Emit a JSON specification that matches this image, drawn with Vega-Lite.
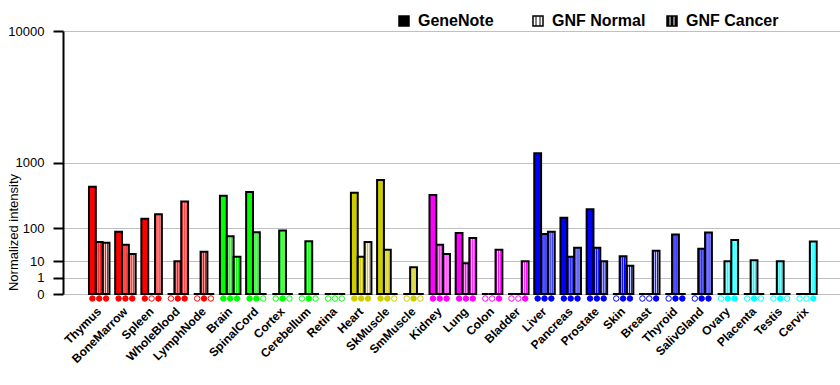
{
  "$schema": "https://vega.github.io/schema/vega-lite/v6.json",
  "width": 777,
  "height": 263,
  "autosize": "none",
  "padding": {"left": 63, "top": 31, "right": 0, "bottom": 91},
  "background": "white",
  "config": {"view": {"stroke": null}, "font": "Liberation Sans"},
  "data": {"values": [
    {"tissue": "Thymus", "system": "Hematopoietic", "series": "GeneNote", "value": 510, "present": 1},
    {"tissue": "Thymus", "system": "Hematopoietic", "series": "GNF Normal", "value": 46, "present": 1},
    {"tissue": "Thymus", "system": "Hematopoietic", "series": "GNF Cancer", "value": 44, "present": 1},
    {"tissue": "BoneMarrow", "system": "Hematopoietic", "series": "GeneNote", "value": 83, "present": 1},
    {"tissue": "BoneMarrow", "system": "Hematopoietic", "series": "GNF Normal", "value": 38, "present": 1},
    {"tissue": "BoneMarrow", "system": "Hematopoietic", "series": "GNF Cancer", "value": 19, "present": 1},
    {"tissue": "Spleen", "system": "Hematopoietic", "series": "GeneNote", "value": 157, "present": 1},
    {"tissue": "Spleen", "system": "Hematopoietic", "series": "GNF Normal", "value": 0, "present": 0},
    {"tissue": "Spleen", "system": "Hematopoietic", "series": "GNF Cancer", "value": 190, "present": 1},
    {"tissue": "WholeBlood", "system": "Hematopoietic", "series": "GeneNote", "value": 0, "present": 0},
    {"tissue": "WholeBlood", "system": "Hematopoietic", "series": "GNF Normal", "value": 10, "present": 1},
    {"tissue": "WholeBlood", "system": "Hematopoietic", "series": "GNF Cancer", "value": 310, "present": 1},
    {"tissue": "LymphNode", "system": "Hematopoietic", "series": "GeneNote", "value": 0, "present": 0},
    {"tissue": "LymphNode", "system": "Hematopoietic", "series": "GNF Normal", "value": 23, "present": 1},
    {"tissue": "LymphNode", "system": "Hematopoietic", "series": "GNF Cancer", "value": 0, "present": 0},
    {"tissue": "Brain", "system": "Nervous", "series": "GeneNote", "value": 380, "present": 1},
    {"tissue": "Brain", "system": "Nervous", "series": "GNF Normal", "value": 65, "present": 1},
    {"tissue": "Brain", "system": "Nervous", "series": "GNF Cancer", "value": 15, "present": 1},
    {"tissue": "SpinalCord", "system": "Nervous", "series": "GeneNote", "value": 430, "present": 1},
    {"tissue": "SpinalCord", "system": "Nervous", "series": "GNF Normal", "value": 81, "present": 1},
    {"tissue": "SpinalCord", "system": "Nervous", "series": "GNF Cancer", "value": 0, "present": 0},
    {"tissue": "Cortex", "system": "Nervous", "series": "GeneNote", "value": 0, "present": 0},
    {"tissue": "Cortex", "system": "Nervous", "series": "GNF Normal", "value": 89, "present": 1},
    {"tissue": "Cortex", "system": "Nervous", "series": "GNF Cancer", "value": 0, "present": 0},
    {"tissue": "Cerebellum", "system": "Nervous", "series": "GeneNote", "value": 0, "present": 0},
    {"tissue": "Cerebellum", "system": "Nervous", "series": "GNF Normal", "value": 48, "present": 1},
    {"tissue": "Cerebellum", "system": "Nervous", "series": "GNF Cancer", "value": 0, "present": 0},
    {"tissue": "Retina", "system": "Nervous", "series": "GeneNote", "value": 0, "present": 0},
    {"tissue": "Retina", "system": "Nervous", "series": "GNF Normal", "value": 0, "present": 0},
    {"tissue": "Retina", "system": "Nervous", "series": "GNF Cancer", "value": 0, "present": 0},
    {"tissue": "Heart", "system": "Muscle", "series": "GeneNote", "value": 420, "present": 1},
    {"tissue": "Heart", "system": "Muscle", "series": "GNF Normal", "value": 15, "present": 1},
    {"tissue": "Heart", "system": "Muscle", "series": "GNF Cancer", "value": 46, "present": 1},
    {"tissue": "SkMuscle", "system": "Muscle", "series": "GeneNote", "value": 620, "present": 1},
    {"tissue": "SkMuscle", "system": "Muscle", "series": "GNF Normal", "value": 27, "present": 1},
    {"tissue": "SkMuscle", "system": "Muscle", "series": "GNF Cancer", "value": 0, "present": 0},
    {"tissue": "SmMuscle", "system": "Muscle", "series": "GeneNote", "value": 0, "present": 0},
    {"tissue": "SmMuscle", "system": "Muscle", "series": "GNF Normal", "value": 5, "present": 1},
    {"tissue": "SmMuscle", "system": "Muscle", "series": "GNF Cancer", "value": 0, "present": 0},
    {"tissue": "Kidney", "system": "Visceral", "series": "GeneNote", "value": 390, "present": 1},
    {"tissue": "Kidney", "system": "Visceral", "series": "GNF Normal", "value": 38, "present": 1},
    {"tissue": "Kidney", "system": "Visceral", "series": "GNF Cancer", "value": 19, "present": 1},
    {"tissue": "Lung", "system": "Visceral", "series": "GeneNote", "value": 78, "present": 1},
    {"tissue": "Lung", "system": "Visceral", "series": "GNF Normal", "value": 8, "present": 1},
    {"tissue": "Lung", "system": "Visceral", "series": "GNF Cancer", "value": 59, "present": 1},
    {"tissue": "Colon", "system": "Visceral", "series": "GeneNote", "value": 0, "present": 0},
    {"tissue": "Colon", "system": "Visceral", "series": "GNF Normal", "value": 0, "present": 0},
    {"tissue": "Colon", "system": "Visceral", "series": "GNF Cancer", "value": 27, "present": 1},
    {"tissue": "Bladder", "system": "Visceral", "series": "GeneNote", "value": 0, "present": 0},
    {"tissue": "Bladder", "system": "Visceral", "series": "GNF Normal", "value": 0, "present": 0},
    {"tissue": "Bladder", "system": "Visceral", "series": "GNF Cancer", "value": 10, "present": 1},
    {"tissue": "Liver", "system": "Glandular", "series": "GeneNote", "value": 1250, "present": 1},
    {"tissue": "Liver", "system": "Glandular", "series": "GNF Normal", "value": 74, "present": 1},
    {"tissue": "Liver", "system": "Glandular", "series": "GNF Cancer", "value": 83, "present": 1},
    {"tissue": "Pancreas", "system": "Glandular", "series": "GeneNote", "value": 164, "present": 1},
    {"tissue": "Pancreas", "system": "Glandular", "series": "GNF Normal", "value": 15, "present": 1},
    {"tissue": "Pancreas", "system": "Glandular", "series": "GNF Cancer", "value": 31, "present": 1},
    {"tissue": "Prostate", "system": "Glandular", "series": "GeneNote", "value": 233, "present": 1},
    {"tissue": "Prostate", "system": "Glandular", "series": "GNF Normal", "value": 31, "present": 1},
    {"tissue": "Prostate", "system": "Glandular", "series": "GNF Cancer", "value": 10, "present": 1},
    {"tissue": "Skin", "system": "Glandular", "series": "GeneNote", "value": 0, "present": 0},
    {"tissue": "Skin", "system": "Glandular", "series": "GNF Normal", "value": 16, "present": 1},
    {"tissue": "Skin", "system": "Glandular", "series": "GNF Cancer", "value": 6, "present": 1},
    {"tissue": "Breast", "system": "Glandular", "series": "GeneNote", "value": 0, "present": 0},
    {"tissue": "Breast", "system": "Glandular", "series": "GNF Normal", "value": 0, "present": 0},
    {"tissue": "Breast", "system": "Glandular", "series": "GNF Cancer", "value": 25, "present": 1},
    {"tissue": "Thyroid", "system": "Glandular", "series": "GeneNote", "value": 0, "present": 0},
    {"tissue": "Thyroid", "system": "Glandular", "series": "GNF Normal", "value": 72, "present": 1},
    {"tissue": "Thyroid", "system": "Glandular", "series": "GNF Cancer", "value": 0, "present": 1},
    {"tissue": "SalivGland", "system": "Glandular", "series": "GeneNote", "value": 0, "present": 0},
    {"tissue": "SalivGland", "system": "Glandular", "series": "GNF Normal", "value": 29, "present": 1},
    {"tissue": "SalivGland", "system": "Glandular", "series": "GNF Cancer", "value": 80, "present": 1},
    {"tissue": "Ovary", "system": "Reproductive", "series": "GeneNote", "value": 0, "present": 0},
    {"tissue": "Ovary", "system": "Reproductive", "series": "GNF Normal", "value": 10, "present": 1},
    {"tissue": "Ovary", "system": "Reproductive", "series": "GNF Cancer", "value": 52, "present": 1},
    {"tissue": "Placenta", "system": "Reproductive", "series": "GeneNote", "value": 0, "present": 0},
    {"tissue": "Placenta", "system": "Reproductive", "series": "GNF Normal", "value": 11, "present": 1},
    {"tissue": "Placenta", "system": "Reproductive", "series": "GNF Cancer", "value": 0, "present": 0},
    {"tissue": "Testis", "system": "Reproductive", "series": "GeneNote", "value": 0, "present": 0},
    {"tissue": "Testis", "system": "Reproductive", "series": "GNF Normal", "value": 10, "present": 1},
    {"tissue": "Testis", "system": "Reproductive", "series": "GNF Cancer", "value": 0, "present": 0},
    {"tissue": "Cervix", "system": "Reproductive", "series": "GeneNote", "value": 0, "present": 0},
    {"tissue": "Cervix", "system": "Reproductive", "series": "GNF Normal", "value": 0, "present": 0},
    {"tissue": "Cervix", "system": "Reproductive", "series": "GNF Cancer", "value": 47, "present": 1}
  ]},
  "encoding": {
    "x": {
      "field": "tissue",
      "type": "nominal",
      "scale": {
        "domain": ["Thymus", "BoneMarrow", "Spleen", "WholeBlood", "LymphNode", "Brain", "SpinalCord", "Cortex", "Cerebellum", "Retina", "Heart", "SkMuscle", "SmMuscle", "Kidney", "Lung", "Colon", "Bladder", "Liver", "Pancreas", "Prostate", "Skin", "Breast", "Thyroid", "SalivGland", "Ovary", "Placenta", "Testis", "Cervix"],
        "paddingInner": 0.217,
        "paddingOuter": 0.941,
        "align": 0.527
      },
      "axis": {
        "title": null,
        "domain": false,
        "ticks": false,
        "grid": false,
        "labelAngle": -45,
        "labelAlign": "right",
        "labelBaseline": "middle",
        "labelPadding": 15,
        "labelFont": "Liberation Sans",
        "labelFontSize": 12,
        "labelFontWeight": "bold",
        "labelColor": "black",
        "labelOverlap": false,
        "labelLimit": 200
      }
    },
    "xOffset": {
      "field": "series",
      "type": "nominal",
      "scale": {"domain": ["GeneNote", "GNF Normal", "GNF Cancer"], "paddingInner": 0, "paddingOuter": 0}
    }
  },
  "layer": [
    {
      "mark": {"type": "bar", "stroke": "black", "strokeWidth": 2},
      "encoding": {
        "y": {
          "field": "value",
          "type": "quantitative",
          "scale": {"type": "pow", "exponent": 0.30103, "domain": [0, 10000], "nice": false, "zero": true},
          "axis": {
            "values": [0, 1, 10, 100, 1000, 10000],
            "format": "d",
            "grid": true,
            "gridColor": "#c0c0c0",
            "gridWidth": 1,
            "domainColor": "black",
            "domainWidth": 2,
            "tickColor": "black",
            "tickWidth": 2,
            "tickSize": 10,
            "labelPadding": 9,
            "labelFont": "Liberation Sans",
            "labelFontSize": 13,
            "labelColor": "black",
            "labelOverlap": false,
            "title": "Normalized intensity",
            "titleFont": "Liberation Sans",
            "titleFontSize": 13,
            "titleFontWeight": "normal",
            "titleColor": "black",
            "titleAngle": -90,
            "titleX": -43,
            "titleY": 201,
            "titleAlign": "center",
            "titleBaseline": "bottom"
          }
        },
        "opacity": {
          "field": "series",
          "type": "nominal",
          "scale": {"domain": ["GeneNote", "GNF Normal", "GNF Cancer"], "range": [1, 1, 1]},
          "legend": {
            "title": null,
            "orient": "none",
            "legendX": 333,
            "legendY": -18,
            "direction": "horizontal",
            "columns": 3,
            "gridAlign": "all",
            "columnPadding": 18,
            "padding": 0,
            "symbolType": "square",
            "symbolSize": 100,
            "labelFont": "Liberation Sans",
            "labelFontSize": 16,
            "labelFontWeight": "bold",
            "labelColor": "black",
            "labelOffset": 6
          }
        },
        "fill": {
          "field": "system",
          "type": "nominal",
          "scale": {"domain": ["Hematopoietic", "Nervous", "Muscle", "Visceral", "Glandular", "Reproductive"], "range": ["#ff0000", "#00ff00", "#cccc00", "#ff00ff", "#0000ff", "#00ffff"]},
          "legend": null,
          "condition": [
            {"test": "datum.series === 'GNF Normal' && datum.system === 'Hematopoietic'", "value": {"expr": "datum.value === 'GeneNote' ? 'black' : datum.value === 'GNF Normal' ? {gradient: 'linear', x1: 0, y1: 0, x2: 1, y2: 0, stops: [{offset: 0, color: 'white'}, {offset: 0.2, color: 'white'}, {offset: 0.3, color: 'black'}, {offset: 0.4, color: 'white'}, {offset: 0.6, color: 'white'}, {offset: 0.7, color: 'black'}, {offset: 0.8, color: 'white'}, {offset: 1, color: 'white'}]} : datum.value === 'GNF Cancer' ? {gradient: 'linear', x1: 0, y1: 0, x2: 1, y2: 0, stops: [{offset: 0, color: 'black'}, {offset: 0.2, color: 'black'}, {offset: 0.3, color: 'white'}, {offset: 0.4, color: 'black'}, {offset: 0.6, color: 'black'}, {offset: 0.7, color: 'white'}, {offset: 0.8, color: 'black'}, {offset: 1, color: 'black'}]} : {gradient: 'linear', x1: 0, y1: 0, x2: 1, y2: 0, stops: [{offset: 0, color: '#ff0000'}, {offset: 0.15, color: '#ff0000'}, {offset: 0.29, color: '#ff9999'}, {offset: 0.43, color: '#ff0000'}, {offset: 0.57, color: '#ff9999'}, {offset: 0.71, color: '#ff0000'}, {offset: 0.85, color: '#ff9999'}, {offset: 1, color: '#ff0000'}]}"}},
            {"test": "datum.series === 'GNF Normal' && datum.system === 'Nervous'", "value": {"gradient": "linear", "x1": 0, "y1": 0, "x2": 1, "y2": 0, "stops": [{"offset": 0, "color": "#00ff00"}, {"offset": 0.15, "color": "#00ff00"}, {"offset": 0.29, "color": "#99ff99"}, {"offset": 0.43, "color": "#00ff00"}, {"offset": 0.57, "color": "#99ff99"}, {"offset": 0.71, "color": "#00ff00"}, {"offset": 0.85, "color": "#99ff99"}, {"offset": 1, "color": "#00ff00"}]}},
            {"test": "datum.series === 'GNF Normal' && datum.system === 'Muscle'", "value": {"gradient": "linear", "x1": 0, "y1": 0, "x2": 1, "y2": 0, "stops": [{"offset": 0, "color": "#cccc00"}, {"offset": 0.15, "color": "#cccc00"}, {"offset": 0.29, "color": "#ebeb99"}, {"offset": 0.43, "color": "#cccc00"}, {"offset": 0.57, "color": "#ebeb99"}, {"offset": 0.71, "color": "#cccc00"}, {"offset": 0.85, "color": "#ebeb99"}, {"offset": 1, "color": "#cccc00"}]}},
            {"test": "datum.series === 'GNF Normal' && datum.system === 'Visceral'", "value": {"gradient": "linear", "x1": 0, "y1": 0, "x2": 1, "y2": 0, "stops": [{"offset": 0, "color": "#ff00ff"}, {"offset": 0.15, "color": "#ff00ff"}, {"offset": 0.29, "color": "#ff99ff"}, {"offset": 0.43, "color": "#ff00ff"}, {"offset": 0.57, "color": "#ff99ff"}, {"offset": 0.71, "color": "#ff00ff"}, {"offset": 0.85, "color": "#ff99ff"}, {"offset": 1, "color": "#ff00ff"}]}},
            {"test": "datum.series === 'GNF Normal' && datum.system === 'Glandular'", "value": {"gradient": "linear", "x1": 0, "y1": 0, "x2": 1, "y2": 0, "stops": [{"offset": 0, "color": "#0000ff"}, {"offset": 0.15, "color": "#0000ff"}, {"offset": 0.29, "color": "#9999ff"}, {"offset": 0.43, "color": "#0000ff"}, {"offset": 0.57, "color": "#9999ff"}, {"offset": 0.71, "color": "#0000ff"}, {"offset": 0.85, "color": "#9999ff"}, {"offset": 1, "color": "#0000ff"}]}},
            {"test": "datum.series === 'GNF Normal' && datum.system === 'Reproductive'", "value": {"gradient": "linear", "x1": 0, "y1": 0, "x2": 1, "y2": 0, "stops": [{"offset": 0, "color": "#00ffff"}, {"offset": 0.15, "color": "#00ffff"}, {"offset": 0.29, "color": "#99ffff"}, {"offset": 0.43, "color": "#00ffff"}, {"offset": 0.57, "color": "#99ffff"}, {"offset": 0.71, "color": "#00ffff"}, {"offset": 0.85, "color": "#99ffff"}, {"offset": 1, "color": "#00ffff"}]}},
            {"test": "datum.series === 'GNF Cancer' && datum.system === 'Hematopoietic'", "value": {"gradient": "linear", "x1": 0, "y1": 0, "x2": 1, "y2": 0, "stops": [{"offset": 0, "color": "#ff0000"}, {"offset": 0.15, "color": "#ff0000"}, {"offset": 0.29, "color": "#ffd9d9"}, {"offset": 0.43, "color": "#ff0000"}, {"offset": 0.57, "color": "#ffd9d9"}, {"offset": 0.71, "color": "#ff0000"}, {"offset": 0.85, "color": "#ffd9d9"}, {"offset": 1, "color": "#ff0000"}]}},
            {"test": "datum.series === 'GNF Cancer' && datum.system === 'Nervous'", "value": {"gradient": "linear", "x1": 0, "y1": 0, "x2": 1, "y2": 0, "stops": [{"offset": 0, "color": "#00ff00"}, {"offset": 0.15, "color": "#00ff00"}, {"offset": 0.29, "color": "#d9ffd9"}, {"offset": 0.43, "color": "#00ff00"}, {"offset": 0.57, "color": "#d9ffd9"}, {"offset": 0.71, "color": "#00ff00"}, {"offset": 0.85, "color": "#d9ffd9"}, {"offset": 1, "color": "#00ff00"}]}},
            {"test": "datum.series === 'GNF Cancer' && datum.system === 'Muscle'", "value": {"gradient": "linear", "x1": 0, "y1": 0, "x2": 1, "y2": 0, "stops": [{"offset": 0, "color": "#cccc00"}, {"offset": 0.15, "color": "#cccc00"}, {"offset": 0.29, "color": "#f7f7d9"}, {"offset": 0.43, "color": "#cccc00"}, {"offset": 0.57, "color": "#f7f7d9"}, {"offset": 0.71, "color": "#cccc00"}, {"offset": 0.85, "color": "#f7f7d9"}, {"offset": 1, "color": "#cccc00"}]}},
            {"test": "datum.series === 'GNF Cancer' && datum.system === 'Visceral'", "value": {"gradient": "linear", "x1": 0, "y1": 0, "x2": 1, "y2": 0, "stops": [{"offset": 0, "color": "#ff00ff"}, {"offset": 0.15, "color": "#ff00ff"}, {"offset": 0.29, "color": "#ffd9ff"}, {"offset": 0.43, "color": "#ff00ff"}, {"offset": 0.57, "color": "#ffd9ff"}, {"offset": 0.71, "color": "#ff00ff"}, {"offset": 0.85, "color": "#ffd9ff"}, {"offset": 1, "color": "#ff00ff"}]}},
            {"test": "datum.series === 'GNF Cancer' && datum.system === 'Glandular'", "value": {"gradient": "linear", "x1": 0, "y1": 0, "x2": 1, "y2": 0, "stops": [{"offset": 0, "color": "#0000ff"}, {"offset": 0.15, "color": "#0000ff"}, {"offset": 0.29, "color": "#d9d9ff"}, {"offset": 0.43, "color": "#0000ff"}, {"offset": 0.57, "color": "#d9d9ff"}, {"offset": 0.71, "color": "#0000ff"}, {"offset": 0.85, "color": "#d9d9ff"}, {"offset": 1, "color": "#0000ff"}]}},
            {"test": "datum.series === 'GNF Cancer' && datum.system === 'Reproductive'", "value": {"gradient": "linear", "x1": 0, "y1": 0, "x2": 1, "y2": 0, "stops": [{"offset": 0, "color": "#00ffff"}, {"offset": 0.15, "color": "#00ffff"}, {"offset": 0.29, "color": "#d9ffff"}, {"offset": 0.43, "color": "#00ffff"}, {"offset": 0.57, "color": "#d9ffff"}, {"offset": 0.71, "color": "#00ffff"}, {"offset": 0.85, "color": "#d9ffff"}, {"offset": 1, "color": "#00ffff"}]}}
          ]
        }
      }
    },
    {
      "mark": {"type": "point", "shape": "circle", "size": 30, "strokeWidth": 1, "filled": true, "opacity": 1, "yOffset": 4.5},
      "encoding": {
        "y": {"datum": 0, "type": "quantitative"},
        "stroke": {
          "field": "system",
          "type": "nominal",
          "scale": {"domain": ["Hematopoietic", "Nervous", "Muscle", "Visceral", "Glandular", "Reproductive"], "range": ["#ff0000", "#00ff00", "#cccc00", "#ff00ff", "#0000ff", "#00ffff"]},
          "legend": null
        },
        "fill": {
          "condition": {"test": "datum.present === 1", "field": "system", "type": "nominal", "legend": null},
          "value": "white"
        }
      }
    }
  ]
}
